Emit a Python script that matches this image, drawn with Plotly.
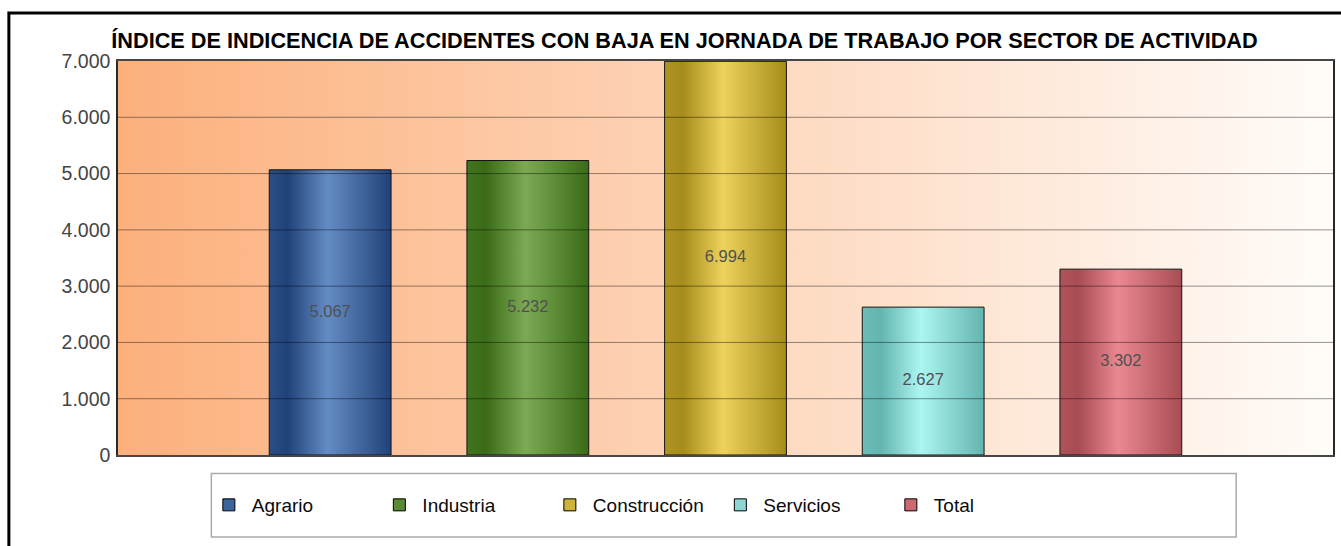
import plotly.graph_objects as go

# ---------------- data ----------------
categories = ["Agrario", "Industria", "Construcción", "Servicios", "Total"]
values = [5067, 5232, 6994, 2627, 3302]
y_ticks = [0, 1000, 2000, 3000, 4000, 5000, 6000, 7000]
y_tick_labels = ["0", "1.000", "2.000", "3.000", "4.000", "5.000", "6.000", "7.000"]
title_text = "ÍNDICE DE INDICENCIA DE ACCIDENTES CON BAJA EN JORNADA DE TRABAJO POR SECTOR DE ACTIVIDAD"

# ---------------- styles ----------------
edge_colors = ["rgb(42,78,134)", "rgb(66,116,32)", "rgb(174,148,34)", "rgb(108,188,183)", "rgb(176,84,92)"]
dark_colors = ["rgb(32,66,120)", "rgb(58,106,22)", "rgb(166,140,26)", "rgb(100,180,175)", "rgb(168,76,84)"]
light_colors = ["rgb(100,140,196)", "rgb(124,170,84)", "rgb(237,210,92)", "rgb(172,246,241)", "rgb(234,136,144)"]
mid_colors = ["rgb(60,100,156)", "rgb(90,138,52)", "rgb(205,178,60)", "rgb(140,215,210)", "rgb(205,105,115)"]

W, H = 1341, 546
L, R, T, B = 118, 6, 61, 91
plot_w = W - L - R
plot_h = H - T - B
slot_px = 198.0
bar_width = 122.0 / slot_px
center_idx = (len(categories) - 1) / 2.0
half_range = (plot_w / 2.0) / slot_px
x_range = [center_idx - half_range, center_idx + half_range]
y_range = [y_ticks[0], y_ticks[-1]]


def px_to_paper_x(px):
    return (px - L) / plot_w


def px_to_paper_y(py):
    return (H - B - py) / plot_h


def cyl(edge, dark, light):
    return [[0.0, edge], [0.15, dark], [0.48, light], [1.0, dark]]


fig = go.Figure()

# legend-carrying bars (covered by the drawn cylinders)
for i, (c, v) in enumerate(zip(categories, values)):
    fig.add_trace(go.Bar(
        x=[i], y=[v], width=bar_width, name=c,
        marker=dict(color=mid_colors[i], line=dict(color="black", width=1)),
        hoverinfo="skip", showlegend=True,
    ))

# background gradient
fig.add_trace(go.Scatter(
    x=[x_range[0], x_range[1], x_range[1], x_range[0], x_range[0]],
    y=[y_range[0], y_range[0], y_range[1], y_range[1], y_range[0]],
    mode="lines", fill="toself", line=dict(width=0),
    fillgradient=dict(type="horizontal",
                      colorscale=[[0, "rgb(252,176,124)"], [1, "rgb(255,252,249)"]]),
    hoverinfo="skip", showlegend=False,
))

# cylinder bars
for i, (c, v) in enumerate(zip(categories, values)):
    x0, x1 = i - bar_width / 2, i + bar_width / 2
    fig.add_trace(go.Scatter(
        x=[x0, x1, x1, x0, x0], y=[0, 0, v, v, 0],
        mode="lines", fill="toself",
        line=dict(color="rgb(20,20,20)", width=1),
        fillgradient=dict(type="horizontal",
                          colorscale=cyl(edge_colors[i], dark_colors[i], light_colors[i])),
        hoverinfo="skip", showlegend=False, name=c,
    ))

# value labels
fig.add_trace(go.Scatter(
    x=list(range(len(categories))), y=[v / 2 for v in values],
    mode="text", text=[f"{v:,}".replace(",", ".") for v in values],
    textfont=dict(family="Liberation Sans, Arial, sans-serif", size=16.5, color="rgb(80,80,80)"),
    hoverinfo="skip", showlegend=False,
))

# gridlines above the bars
for t in y_ticks[1:-1]:
    fig.add_shape(type="line", xref="paper", x0=0, x1=1, yref="y", y0=t, y1=t,
                  line=dict(color="rgba(0,0,0,0.42)", width=1), layer="above")

# outer frame
fig.add_shape(type="rect", xref="paper", yref="paper",
              x0=px_to_paper_x(8.7), x1=px_to_paper_x(1400),
              y0=px_to_paper_y(620), y1=px_to_paper_y(13),
              line=dict(color="black", width=3), fillcolor="rgba(0,0,0,0)", layer="above")

# legend box
fig.add_shape(type="rect", xref="paper", yref="paper",
              x0=px_to_paper_x(211.5), x1=px_to_paper_x(1238),
              y0=px_to_paper_y(537), y1=px_to_paper_y(473.5),
              line=dict(color="rgb(170,170,170)", width=1.5), fillcolor="rgba(0,0,0,0)", layer="above")

fig.update_layout(
    width=W, height=H,
    margin=dict(l=L, r=R, t=T, b=B, pad=0),
    paper_bgcolor="white", plot_bgcolor="white",
    barmode="overlay",
    font=dict(family="Liberation Sans, Arial, sans-serif", color="#444"),
    title=dict(text="<b>" + title_text + "</b>", x=684.5 / W, xref="container", xanchor="center",
               y=1 - 40.5 / H, yref="container", yanchor="middle",
               font=dict(family="Liberation Sans, Arial, sans-serif", size=21.7, color="black")),
    xaxis=dict(range=x_range, showticklabels=False, showgrid=False, zeroline=False,
               showline=True, mirror=True, linecolor="rgb(70,70,70)", linewidth=2, ticks=""),
    yaxis=dict(range=y_range, tickvals=y_ticks, ticktext=y_tick_labels, showgrid=False, zeroline=False,
               showline=True, mirror=True, linecolor="rgb(40,40,40)", linewidth=1.5, ticks="",
               ticklabelstandoff=2,
               tickfont=dict(family="Liberation Sans, Arial, sans-serif", size=19.5, color="rgb(68,68,68)")),
    legend=dict(orientation="h", x=px_to_paper_x(206), xanchor="left", y=px_to_paper_y(505),
                yanchor="middle", entrywidth=119.5, entrywidthmode="pixels", itemwidth=36,
                font=dict(family="Liberation Sans, Arial, sans-serif", size=19, color="rgb(10,10,10)"),
                bgcolor="rgba(0,0,0,0)", borderwidth=0, traceorder="normal"),
    showlegend=True,
)

fig.write_html("out.html", config={"displayModeBar": False},
               post_script="document.body.style.margin='0';")
